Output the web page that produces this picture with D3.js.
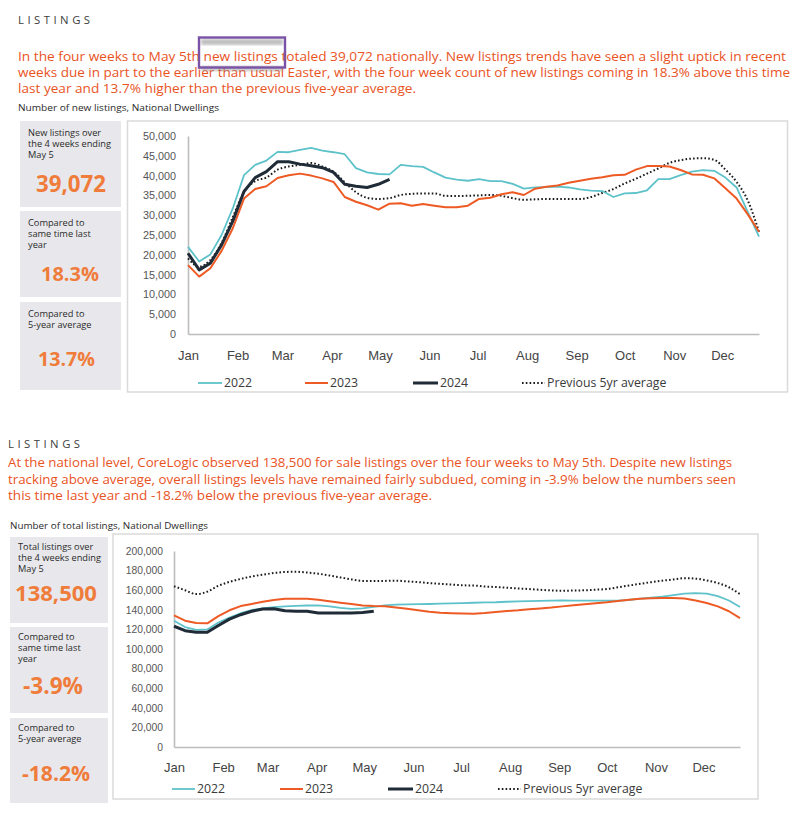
<!DOCTYPE html>
<html><head><meta charset="utf-8">
<script src="https://cdn.jsdelivr.net/npm/d3@7"></script>
<style>
body{margin:0;background:#fff;}
svg{display:block;font-family:"Open Sans","Noto Sans",sans-serif;}
</style>
</head><body>
<svg id="c" width="810" height="822"></svg>
<script>
// ---------- DATA ----------
const months = ["Jan","Feb","Mar","Apr","May","Jun","Jul","Aug","Sep","Oct","Nov","Dec"];
const monthStartDay = [0,31,59,90,120,151,181,212,243,273,304,334];
const seriesNames = ["2022","2023","2024","Previous 5yr average"];

// New listings (weekly, 4-week rolling count)
const new2022 = [22000,18300,20100,25000,31700,40100,42700,43800,46000,45900,46500,47000,46300,45900,45400,41900,40800,40400,40300,42700,42400,42200,40800,39500,39000,38700,39100,38600,38600,37900,36700,37000,37100,37200,37000,36500,36200,36100,34600,35500,35600,36300,39100,39100,40100,41000,41400,41200,39500,37000,30800,24600];
const new2023 = [17400,14500,16600,21000,26700,34200,36600,37300,39400,40100,40500,40000,39300,38400,34600,33400,32500,31400,32900,33000,32400,32800,32400,32000,32000,32400,34100,34400,35300,35800,35100,36700,37200,37500,38200,38700,39200,39600,40100,40200,41500,42400,42400,42300,41400,40300,40200,39300,36800,34200,30200,25800];
const new2024 = [20400,16200,17900,22500,28500,36000,39500,41000,43500,43500,42900,42500,42000,40800,37800,37300,37000,37800,39072];
const newAvg5 = [19100,17000,18700,23000,29500,35800,38600,39500,41500,42300,42700,43200,42300,41000,38300,35800,34400,34100,34300,35100,35400,35500,35500,34900,34850,34900,35000,35100,34900,34300,33900,34000,34100,34100,34100,34100,34600,35600,36600,38000,39200,40500,41800,43200,43900,44300,44400,44000,41500,38400,33700,25800];
const newYTicks = [0,5000,10000,15000,20000,25000,30000,35000,40000,45000,50000];

// Total listings (weekly)
const tot2022 = [128900,122400,119500,120000,127000,132000,136500,139800,141500,142800,143500,144000,144400,144500,143500,142000,141000,141500,143000,144600,145200,145500,145700,145900,146200,146600,146900,147200,147500,147700,148200,148600,148800,149200,149400,149500,149300,149300,149300,149300,149300,150000,151300,152300,153500,155000,156500,157000,156500,154000,149500,142900];
const tot2023 = [134400,128900,126500,126200,133500,139500,143800,146000,148200,150000,151300,151300,151300,150300,148800,147300,146000,144300,143800,143600,142300,141000,139500,138000,137000,136600,136200,136000,136700,137800,138700,139500,140600,141400,142300,143500,144600,145700,146700,147700,149000,150300,151300,151800,152000,152000,151600,149500,147000,143500,138500,131600];
const tot2024 = [123200,118700,117000,117000,124000,130500,135000,138500,140800,141100,139000,138500,138500,136700,136700,136700,136700,137300,138500];
const totAvg5 = [164000,160000,156000,158500,164500,168500,171500,174000,175800,177500,178600,178800,178000,176800,175000,173000,171000,169500,169300,169500,169700,169000,168300,167200,166500,165800,165000,164800,163800,163200,162500,161800,161200,160400,159800,159400,159700,159900,160600,161200,163000,164800,166500,168200,169700,171000,172300,171800,170000,167300,163000,156000];
const totYTicks = [0,20000,40000,60000,80000,100000,120000,140000,160000,180000,200000];

// Text content
const title = "LISTINGS";
const para1 = ["In the four weeks to May 5th new listings totaled 39,072 nationally.  New listings trends have seen a slight uptick in recent",
  "weeks due in part to the earlier than usual Easter, with the four week count of new listings coming in 18.3% above this time",
  "last year and 13.7% higher than the previous five-year average."];
const para2 = ["At the national level, CoreLogic observed 138,500 for sale listings over the four weeks to May 5th. Despite new listings",
  "tracking above average, overall listings levels have remained fairly subdued, coming in -3.9% below the numbers seen",
  "this time last year and -18.2% below the previous five-year average."];
const sub1 = "Number of new listings, National Dwellings";
const sub2 = "Number of total listings, National Dwellings";
const boxes1 = [
  {lines:["New listings over","the 4 weeks ending","May 5"], value:"39,072"},
  {lines:["Compared to","same time last","year"], value:"18.3%"},
  {lines:["Compared to","5-year average"], value:"13.7%"}];
const boxes2 = [
  {lines:["Total listings over","the 4 weeks ending","May 5"], value:"138,500"},
  {lines:["Compared to","same time last","year"], value:"-3.9%"},
  {lines:["Compared to","5-year average"], value:"-18.2%"}];

// ---------- STYLE ----------
const C = {teal:"#5ec2ca", orange:"#ee5a24", dark:"#1f2b37", dot:"#1b1b1b",
  para:"#e9531e", big:"#ef7c3b", box:"#e8e8ec", axis:"#bdbdbd", frame:"#dadada", txt:"#3d3d3d"};

const svg = d3.select("#c");

function fit(t, w){
  const n = t.node(); const cur = n.getComputedTextLength();
  const fs = parseFloat(t.attr("font-size"));
  if(cur>0) t.attr("font-size", fs*w/cur);
  return t;
}
function stretch(t, w){
  t.attr("textLength", w).attr("lengthAdjust","spacingAndGlyphs");
  return t;
}
function widen(t, k){
  const cur = t.node().getComputedTextLength();
  return stretch(t, cur*k);
}

function drawSection(o){
  const g = svg.append("g");
  // title
  g.append("text").attr("x",o.titleX).attr("y",o.titleY).attr("font-size",11.3)
    .attr("letter-spacing",3.5).attr("fill","#404040").text(title);
  // paragraph
  o.para.forEach((s,i)=>{
    const t = g.append("text").attr("x",o.titleX).attr("y",o.paraY[i]).attr("font-size",12.6)
      .attr("fill",C.para).text(s);
    stretch(t, o.paraW[i]);
  });
  // subtitle
  stretch(g.append("text").attr("x",o.subX).attr("y",o.subY).attr("font-size",8.6)
     .attr("fill","#2a2a2a").text(o.sub), o.subW);

  // stat boxes
  o.boxes.forEach((b,i)=>{
    const r = o.boxRects[i];
    g.append("rect").attr("x",r[0]).attr("y",r[1]).attr("width",r[2]).attr("height",r[3]).attr("fill",C.box);
    b.lines.forEach((l,j)=>{
      const t = g.append("text").attr("x",r[0]+o.boxPad).attr("y",r[1]+o.boxLineY+ j*11.3)
        .attr("font-size",8.2).attr("fill","#2a2a2a").text(l);
      widen(t, 1.13);
    });
    const t = g.append("text").attr("x",o.bigX[i]).attr("y",o.bigY[i]).attr("text-anchor","middle")
      .attr("font-size",21).attr("font-weight",700).attr("fill",C.big).text(b.value);
    fit(t, o.bigW[i]);
  });

  // frame
  const f = o.frame;
  g.append("rect").attr("x",f[0]).attr("y",f[1]).attr("width",f[2]).attr("height",f[3])
    .attr("fill","#fff").attr("stroke",C.frame).attr("stroke-width",1.5);

  const x = d3.scaleLinear().domain([0,357]).range([o.x0,o.x1]);
  const y = d3.scaleLinear().domain([0,o.yMax]).range([o.y0,o.y1]);

  // y axis
  const ya = d3.axisLeft(y).tickValues(o.yTicks).tickSize(0).tickPadding(o.yPad)
    .tickFormat(d3.format(","));
  const yg = g.append("g").attr("transform",`translate(${o.x0},0)`).call(ya);
  yg.select(".domain").attr("stroke",C.axis).attr("stroke-width",1.6);
  yg.selectAll("text").attr("font-size",o.yFont).attr("fill","#555").attr("font-family",null);
  // x axis
  const xa = d3.axisBottom(x).tickValues(monthStartDay).tickSize(0).tickPadding(o.xPad)
    .tickFormat((d,i)=>months[i]);
  const xg = g.append("g").attr("transform",`translate(0,${o.y0})`).call(xa);
  xg.select(".domain").attr("stroke",C.axis).attr("stroke-width",1.6);
  xg.selectAll("text").attr("font-size",13).attr("fill","#444").attr("font-family",null);

  const line = d3.line().x((d,i)=>x(i*7)).y(d=>y(d));
  const smooth = d3.line().x((d,i)=>x(i*7)).y(d=>y(d)).curve(d3.curveMonotoneX);
  g.append("path").datum(o.avg).attr("d",smooth).attr("fill","none").attr("stroke",C.dot)
    .attr("stroke-width",2).attr("stroke-dasharray","1.6,2.2");
  g.append("path").datum(o.s22).attr("d",line).attr("fill","none").attr("stroke",C.teal).attr("stroke-width",1.8).attr("stroke-linejoin","round");
  g.append("path").datum(o.s23).attr("d",line).attr("fill","none").attr("stroke",C.orange).attr("stroke-width",2).attr("stroke-linejoin","round");
  g.append("path").datum(o.s24).attr("d",line).attr("fill","none").attr("stroke",C.dark).attr("stroke-width",3).attr("stroke-linejoin","round");

  // legend
  const styles = [
    {c:C.teal,w:1.8,da:null},{c:C.orange,w:2,da:null},{c:C.dark,w:3,da:null},{c:C.dot,w:2,da:"1.6,2.2"}];
  seriesNames.forEach((nm,i)=>{
    const L = o.leg[i];
    g.append("line").attr("x1",L[0]).attr("x2",L[1]).attr("y1",o.legY).attr("y2",o.legY)
      .attr("stroke",styles[i].c).attr("stroke-width",styles[i].w).attr("stroke-dasharray",styles[i].da);
    g.append("text").attr("x",L[1]+2).attr("y",o.legY+4.3).attr("font-size",12.3).attr("fill","#3a3a3a").text(nm);
  });
}

// Section 1
drawSection({
  titleX:18, titleY:24, para:para1, paraY:[61,77,93], paraW:[768,772,398],
  sub:sub1, subX:18, subY:111, subW:201,
  boxes:boxes1, boxRects:[[20,121,101,86],[20,211,101,86],[20,302,101,88]], boxPad:8, boxLineY:14.5,
  bigX:[71,70,66.5], bigY:[192,281,366], bigW:[70,58,57],
  frame:[127.5,121,660,271],
  x0:188, x1:759, y0:334, y1:136, yMax:50000, yTicks:newYTicks, yPad:12, yFont:10.8, xPad:17,
  s22:new2022, s23:new2023, s24:new2024, avg:newAvg5,
  leg:[[198,222],[305,328],[413,438],[522,545]], legY:383
});

// Section 2
drawSection({
  titleX:8, titleY:448, para:para2, paraY:[467,484,500], paraW:[724,728,424],
  sub:sub2, subX:10, subY:529, subW:198,
  boxes:boxes2, boxRects:[[10,537,98,86],[10,627,98,86],[10,718,98,85]], boxPad:8, boxLineY:12.5,
  bigX:[56,53,56], bigY:[601,694,781], bigW:[82,60,68],
  frame:[113,534,645,265],
  x0:174, x1:740, y0:747, y1:551, yMax:200000, yTicks:totYTicks, yPad:11, yFont:10.3, xPad:16,
  s22:tot2022, s23:tot2023, s24:tot2024, avg:totAvg5,
  leg:[[172,195],[280,303],[388,413],[498,521]], legY:789
});

// purple highlight box around "new listings" with faint blurred shadow
const defs = svg.append("defs");
defs.append("filter").attr("id","blur").append("feGaussianBlur").attr("stdDeviation",1.8);
svg.append("rect").attr("x",201).attr("y",39).attr("width",82).attr("height",6)
  .attr("fill","#8a8a8a").attr("opacity",0.55).attr("filter","url(#blur)");
svg.append("rect").attr("x",201).attr("y",66).attr("width",82).attr("height",5)
  .attr("fill","#8a8a8a").attr("opacity",0.5).attr("filter","url(#blur)");
svg.append("rect").attr("x",199).attr("y",37.5).attr("width",86).attr("height",30)
  .attr("fill","none").attr("stroke","#7a52a6").attr("stroke-width",2.4);
</script>
</body></html>
